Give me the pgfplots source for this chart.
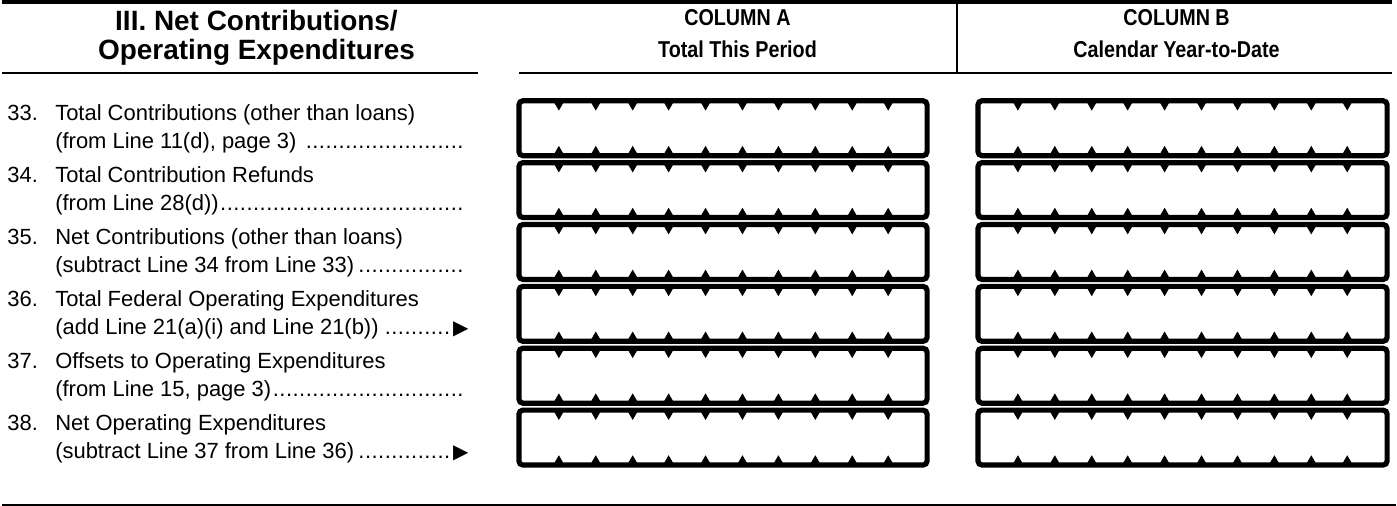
\documentclass[border=0pt]{standalone}
\usepackage{fontspec}
\setmainfont{Liberation Sans}
\newfontfamily\sym{DejaVu Sans}
\newfontfamily\cond[FakeStretch=0.86]{Liberation Sans}
\usepackage{pgfplots}
\pgfplotsset{compat=1.18}
\newcommand\lab{\fontsize{11}{13}\selectfont}
\newcommand\mydots{\leaders\hbox to 3.3pt{\hss.\hss}\hfill}
\newcommand\arr{{\sym\fontsize{10}{10}\selectfont ▶}}
\begin{document}
\begin{tikzpicture}
\begin{axis}[width=698.5pt, height=257pt, scale only axis,
  xmin=0, xmax=1397, ymin=0, ymax=514, y dir=reverse,
  axis lines=none, clip=false]
% rules
\addplot[black, line width=2pt] coordinates {(0,3) (1393,3)};
\addplot[black, line width=0.9pt] coordinates {(0,74) (477,74)};
\addplot[black, line width=0.9pt] coordinates {(518,74) (1393,74)};
\addplot[black, line width=0.6pt] coordinates {(957,3) (957,74)};
\addplot[black, line width=0.9pt] coordinates {(0,507) (1397,507)};
% boxes column A
\addplot[black, line width=2.6pt, rounded corners=2pt] coordinates {(518,102) (927,102) (927,157) (518,157)} --cycle;
\addplot[black, line width=2.6pt, rounded corners=2pt] coordinates {(518,164) (927,164) (927,219) (518,219)} --cycle;
\addplot[black, line width=2.6pt, rounded corners=2pt] coordinates {(518,226) (927,226) (927,281) (518,281)} --cycle;
\addplot[black, line width=2.6pt, rounded corners=2pt] coordinates {(518,288) (927,288) (927,343) (518,343)} --cycle;
\addplot[black, line width=2.6pt, rounded corners=2pt] coordinates {(518,350) (927,350) (927,405) (518,405)} --cycle;
\addplot[black, line width=2.6pt, rounded corners=2pt] coordinates {(518,412) (927,412) (927,467) (518,467)} --cycle;
% boxes column B
\addplot[black, line width=2.6pt, rounded corners=2pt] coordinates {(978,102) (1388,102) (1388,157) (978,157)} --cycle;
\addplot[black, line width=2.6pt, rounded corners=2pt] coordinates {(978,164) (1388,164) (1388,219) (978,219)} --cycle;
\addplot[black, line width=2.6pt, rounded corners=2pt] coordinates {(978,226) (1388,226) (1388,281) (978,281)} --cycle;
\addplot[black, line width=2.6pt, rounded corners=2pt] coordinates {(978,288) (1388,288) (1388,343) (978,343)} --cycle;
\addplot[black, line width=2.6pt, rounded corners=2pt] coordinates {(978,350) (1388,350) (1388,405) (978,405)} --cycle;
\addplot[black, line width=2.6pt, rounded corners=2pt] coordinates {(978,412) (1388,412) (1388,467) (978,467)} --cycle;
% digit ticks (top, pointing down)
\pgfplotsinvokeforeach{106,168,230,292,354,416}{
  \addplot[only marks, mark=triangle*, mark size=2.5pt, mark options={rotate=180, black}] coordinates {(558,#1) (595,#1) (632,#1) (668,#1) (705,#1) (742,#1) (778,#1) (815,#1) (852,#1) (888,#1) (1018,#1) (1055,#1) (1092,#1) (1128,#1) (1165,#1) (1202,#1) (1238,#1) (1275,#1) (1312,#1) (1348,#1)};
}
% digit ticks (bottom, pointing up)
\pgfplotsinvokeforeach{153,215,277,339,401,463}{
  \addplot[only marks, mark=triangle*, mark size=2.5pt, mark options={black}] coordinates {(558,#1) (595,#1) (632,#1) (668,#1) (705,#1) (742,#1) (778,#1) (815,#1) (852,#1) (888,#1) (1018,#1) (1055,#1) (1092,#1) (1128,#1) (1165,#1) (1202,#1) (1238,#1) (1275,#1) (1312,#1) (1348,#1)};
}
% headers
\node[font=\bfseries\fontsize{14}{16}\selectfont, anchor=base] at (axis cs:255,32) {III. Net Contributions/};
\node[font=\bfseries\fontsize{14}{16}\selectfont, anchor=base] at (axis cs:255,61) {Operating Expenditures};
\node[font=\cond\bfseries\fontsize{11.5}{13}\selectfont, anchor=base] at (axis cs:737,27) {COLUMN A};
\node[font=\cond\bfseries\fontsize{11.5}{13}\selectfont, anchor=base] at (axis cs:737,59) {Total This Period};
\node[font=\cond\bfseries\fontsize{11.5}{13}\selectfont, anchor=base] at (axis cs:1177,27) {COLUMN B};
\node[font=\cond\bfseries\fontsize{11.5}{13}\selectfont, anchor=base] at (axis cs:1177,59) {Calendar Year-to-Date};
% row labels
\tikzset{lbl/.style={font=\lab, anchor=base west, inner sep=0pt}}
\node[lbl] at (axis cs:5,122) {33.};
\node[lbl] at (axis cs:53,122) {Total Contributions (other than loans)};
\node[lbl] at (axis cs:53,150) {\makebox[207pt][l]{(from Line 11(d), page 3)\,\mydots}};
\node[lbl] at (axis cs:5,184) {34.};
\node[lbl] at (axis cs:53,184) {Total Contribution Refunds};
\node[lbl] at (axis cs:53,212) {\makebox[207pt][l]{(from Line 28(d))\mydots}};
\node[lbl] at (axis cs:5,246) {35.};
\node[lbl] at (axis cs:53,246) {Net Contributions (other than loans)};
\node[lbl] at (axis cs:53,274) {\makebox[207pt][l]{(subtract Line 34 from Line 33)\,\mydots}};
\node[lbl] at (axis cs:5,308) {36.};
\node[lbl] at (axis cs:53,308) {Total Federal Operating Expenditures};
\node[lbl] at (axis cs:53,336) {\makebox[207pt][l]{(add Line 21(a)(i) and Line 21(b))\,\mydots\arr}};
\node[lbl] at (axis cs:5,370) {37.};
\node[lbl] at (axis cs:53,370) {Offsets to Operating Expenditures};
\node[lbl] at (axis cs:53,398) {\makebox[207pt][l]{(from Line 15, page 3)\mydots}};
\node[lbl] at (axis cs:5,432) {38.};
\node[lbl] at (axis cs:53,432) {Net Operating Expenditures};
\node[lbl] at (axis cs:53,460) {\makebox[207pt][l]{(subtract Line 37 from Line 36)\,\mydots\arr}};
\end{axis}
\end{tikzpicture}
\end{document}
